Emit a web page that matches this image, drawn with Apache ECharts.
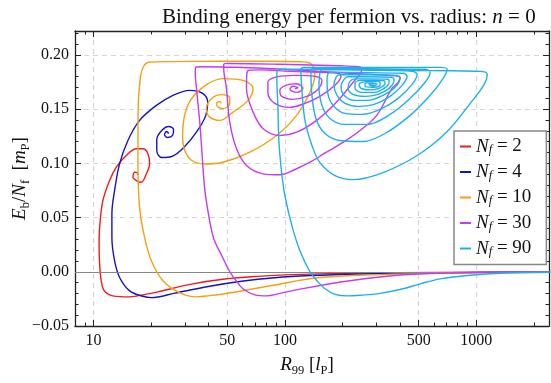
<!DOCTYPE html>
<html><head><meta charset="utf-8">
<script src="https://cdn.jsdelivr.net/npm/echarts@6/dist/echarts.min.js"></script>
<style>html,body{margin:0;padding:0;background:#fff}#c{width:551px;height:383px}</style>
</head><body><div id="c"></div>
<script>
const fermionCounts = [2, 4, 10, 30, 90];
const seriesColors = ['#ee1c1c', '#1414c4', '#f5a00f', '#c53af2', '#1eb0ee'];

const R_nf2 = [2440,1049,400,172,108.8,72.2,48.5,32.5,21.7,18.9,15.4,12.6,11.4,10.97,10.75,10.69,10.81,11.19,12.13,13.15,14.83,16.74,18.12,19.24,19.64,18.88,17.77,16.74,16.06,16.39,16.90,17.0];
const E_nf2 = [-0.0002,-0.0005,-0.0009,-0.0017,-0.0026,-0.0042,-0.0067,-0.0114,-0.0185,-0.0206,-0.0231,-0.0222,-0.0176,-0.0083,0.0083,0.0287,0.0453,0.0656,0.0841,0.0964,0.1072,0.1134,0.1134,0.1088,0.0995,0.0903,0.0825,0.0841,0.0872,0.0918,0.0915,0.0892];

const R_nf4 = [2438,1050,509,247,135.2,88.6,59.3,39.7,26.6,20.05,18.12,15.44,13.68,12.88,12.47,12.47,12.88,13.68,15.12,17.41,21.3,26.0,31.8,37.2,39.5,38.6,35.0,29.96,25.6,22.7,21.4,21.4,22.7,24.7,26.2,25.9,24.4,23.5,24.1,24.7];
const E_nf4 = [-0.0003,-0.0006,-0.0011,-0.0020,-0.0035,-0.0055,-0.0088,-0.0136,-0.0197,-0.0238,-0.0226,-0.0176,-0.0053,0.0102,0.0317,0.0533,0.0749,0.0995,0.1211,0.1396,0.1534,0.1627,0.1673,0.1645,0.1562,0.1442,0.1303,0.1155,0.1063,0.1054,0.1118,0.1220,0.1303,0.1340,0.1312,0.1257,0.1238,0.1266,0.1294,0.1275];

const R_nf10 = [2438,1050,509,247,143.6,89.7,58.1,48.5,40.5,34.6,28.2,23.06,20.05,18.49,17.41,17.06,17.1,17.63,18.28,19.41,25.0,45.7,83.5,119.8,133.6,141.1,143.6,135.2,115.1,90.5,65.6,47.5,38.1,32.6,29.96,29.2,31.05,37.35,47.5,60.5,68.2,64.2,53.6,45.7,40.5,38.9,41.3,46.6,51.5,51.5,47.5,44.8,43.9,45.7,46.5];
const E_nf10 = [-0.0004,-0.0008,-0.0017,-0.0032,-0.0058,-0.0120,-0.0180,-0.0203,-0.0220,-0.0231,-0.0194,-0.0083,0.0102,0.0314,0.0591,0.0998,0.1488,0.1811,0.1895,0.1932,0.1938,0.1941,0.1941,0.1936,0.1927,0.1890,0.1821,0.1657,0.1442,0.1257,0.1103,0.1010,0.0994,0.1026,0.1118,0.1257,0.1534,0.1703,0.1781,0.1765,0.1689,0.1580,0.1472,0.1396,0.1426,0.1504,0.1596,0.1633,0.1608,0.1550,0.1504,0.1518,0.1550,0.1571,0.1553];

const R_nf30 = [2440,1336,731,400,219,119.8,94.1,80.5,69.7,60.3,54.7,51.5,46.8,42.5,40.0,38.1,36.8,35.9,34.6,34.0,34.2,35.9,65.6,119.8,219,376.6,400,390.5,361.9,302,247,202,163.9,135.2,112.8,94.1,77.0,63.0,55.9,51.5,49.5,47.9,47.9,51.5,94.1,194.1,241.1,252.1,250,227.9,186.5,146.6,115.2,94.1,77.0,68.2,63.0,63.2,64.8,74.0,106.2,152.5,189.5,196.5,182.7,152.5,127.3,106.2,88.6,81.5,81.5,88.6,112.8,143.6,156.2,148.9,130.4,110.1,96.4,94.1,101.2,115.6,124.2,115.6,106.2,110.1,117.0,112.8];
const E_nf30 = [-0.0002,-0.0006,-0.0012,-0.0030,-0.0083,-0.0160,-0.0199,-0.0222,-0.0213,-0.0157,-0.0065,0,0.0148,0.0305,0.0518,0.0767,0.1118,0.1377,0.1673,0.1839,0.1885,0.1890,0.1881,0.1858,0.1830,0.1807,0.1793,0.1747,0.1689,0.1442,0.1303,0.1195,0.1100,0.1010,0.0943,0.0894,0.0903,0.0980,0.1134,0.1380,0.1689,0.1876,0.1913,0.1920,0.1913,0.1899,0.1890,0.1876,0.1839,0.1750,0.1565,0.1396,0.1287,0.1257,0.1319,0.1472,0.1689,0.1821,0.1858,0.1862,0.1848,0.1839,0.1830,0.1802,0.1719,0.1617,0.1553,0.1516,0.1553,0.1654,0.1747,0.1793,0.1811,0.1802,0.1765,0.1682,0.1617,0.1590,0.1617,0.1673,0.1719,0.1733,0.1691,0.1654,0.1682,0.1710,0.1696,0.1689];

const R_nf90 = [2440,1336,930,648,509,414.8,314.4,247,211.2,182.7,162,147.1,135.2,119.8,108.8,100,96.1,93.0,91.9,90.8,90.8,93.0,
  172.0,400,1049,1142,1101,930,705,491,326,227,182.7,152.5,138.5,127.3,122.7,121.3,124.2,
  278.6,648,705,671.7,574.3,451.3,333.9,256.1,194.1,162,145.3,138.5,136.8,140.2,
  278.6,540.8,574.3,540.8,451.3,354.6,268.7,206.1,172.0,156.2,150.7,152.5,156.2,
  278.6,462.3,491,462.3,390.5,314.4,253.0,206.1,180.5,168.0,166.0,172.0,
  278.6,414.8,435.2,409.8,354.6,292.4,241.1,206.1,187.3,180.5,184.9,194.1,
  278.6,385.8,400,376.6,326,272.0,229.8,203.7,196.5,203.7,213.7,
  278.6,363.2,372.1,350.4,306.9,262.4,227,213.7,219,232.5,
  278.6,346.2,350.4,329.9,292.4,253.0,232.5,232.5,247,
  285.4,329.9,333.9,310.6,278.6,250,244.1,259.3,285.4,314.4,314.4,288.9,262.4,262.4,285.4,303.2,285.4,275.4,288.9,292.4];
const E_nf90 = [-0.0005,-0.0014,-0.0032,-0.0065,-0.0111,-0.0157,-0.0199,-0.0217,-0.0222,-0.0208,-0.0157,-0.0083,0,0.0194,0.0425,0.0702,0.0918,0.1211,0.1534,0.1765,0.1848,0.1867,
  0.1867,0.1858,0.1848,0.1821,0.1728,0.1553,0.1294,0.1072,0.0915,0.0850,0.0887,0.1007,0.1165,0.1396,0.1673,0.1858,0.1885,
  0.1885,0.1885,0.1867,0.1784,0.1627,0.1442,0.1275,0.1201,0.1211,0.1275,0.1414,0.1627,0.1839,0.1876,
  0.1872,0.1867,0.1839,0.1747,0.1599,0.1451,0.1359,0.1359,0.1414,0.1534,0.1719,0.1839,0.1862,
  0.1858,0.1848,0.1821,0.1728,0.1599,0.1497,0.1451,0.1460,0.1525,0.1636,0.1765,0.1839,
  0.1835,0.1830,0.1802,0.1719,0.1617,0.1543,0.1525,0.1553,0.1627,0.1719,0.1793,0.1816,
  0.1816,0.1811,0.1784,0.1701,0.1627,0.1580,0.1580,0.1627,0.1710,0.1774,0.1798,
  0.1798,0.1793,0.1765,0.1691,0.1636,0.1617,0.1636,0.1691,0.1756,0.1779,
  0.1779,0.1775,0.1747,0.1691,0.1654,0.1654,0.1691,0.1738,0.1765,
  0.1765,0.1761,0.1738,0.1691,0.1677,0.1691,0.1728,0.1751,0.1756,0.1747,0.1719,0.1701,0.1710,0.1738,0.1742,0.1728,0.1715,0.1728,0.1733,0.1728];

const radiusSets = [R_nf2, R_nf4, R_nf10, R_nf30, R_nf90];
const energySets = [E_nf2, E_nf4, E_nf10, E_nf30, E_nf90];

const xMajorTicks = [10, 50, 100, 500, 1000];
const xMinorTicks = [8, 9, 20, 30, 40, 60, 70, 80, 90, 200, 300, 400, 600, 700, 800, 900, 2000];
const yTickStep = 0.05, yMinorStep = 0.01, yMin = -0.05, yMax = 0.222;
const xMin = 8, xMax = 2400;

const FONT = '"Liberation Serif", "DejaVu Serif", serif';
const AX = '#222';

const seriesNames = fermionCounts.map(n => 'Nf=' + n);
const series = fermionCounts.map((n, k) => ({
  name: seriesNames[k],
  type: 'line',
  xAxisIndex: 0, yAxisIndex: 0,
  data: radiusSets[k].map((r, i) => [r, energySets[k][i]]),
  showSymbol: false, symbol: 'none',
  smooth: 0.35,
  lineStyle: {color: seriesColors[k], width: 1.4},
  itemStyle: {color: seriesColors[k]},
  z: 3 + k,
  clip: true,
  animation: false
}));
series[0].markLine = {
  silent: true, symbol: 'none', animation: false,
  label: {show: false},
  lineStyle: {color: '#888', width: 1, type: 'solid'},
  data: [{yAxis: 0}]
};

const logBase = {type: 'log', logBase: 10, min: xMin, max: xMax};
const noLine = {show: false};
const nameRich = {
  i: {fontFamily: FONT, fontStyle: 'italic', fontSize: 19, lineHeight: 24},
  r: {fontFamily: FONT, fontSize: 19, lineHeight: 24},
  s: {fontFamily: FONT, fontSize: 12.5, lineHeight: 13, verticalAlign: 'bottom'}
};
const xAxis = [
  Object.assign({}, logBase, {
    position: 'bottom',
    axisLine: {show: true, onZero: false, lineStyle: {color: AX, width: 1.3}},
    axisTick: {show: true, inside: true, length: 6, customValues: xMajorTicks, lineStyle: {color: AX, width: 1}},
    axisLabel: {customValues: xMajorTicks, formatter: v => String(Math.round(v)), fontFamily: FONT, fontSize: 16, color: '#111', margin: 7},
    splitLine: {show: true, lineStyle: {type: [5, 4], color: '#d6d6d6', width: 1.2}},
    minorTick: {show: false}, minorSplitLine: {show: false},
    name: '{i|R}{s|99}{r| [}{i|l}{s|P}{r|]}',
    nameLocation: 'middle', nameGap: 27, nameMoveOverlap: false,
    nameTextStyle: {fontFamily: FONT, fontSize: 19, color: '#111', rich: nameRich, padding: [0, 10, 0, 0]}
  }),
  Object.assign({}, logBase, {
    position: 'bottom',
    axisLine: {show: false, onZero: false},
    axisTick: {show: true, inside: true, length: 3.5, customValues: xMinorTicks, lineStyle: {color: AX, width: 1}},
    axisLabel: {show: false}, splitLine: noLine
  }),
  Object.assign({}, logBase, {
    position: 'top',
    axisLine: {show: true, onZero: false, lineStyle: {color: AX, width: 1.3}},
    axisTick: {show: true, inside: true, length: 6, customValues: xMajorTicks, lineStyle: {color: AX, width: 1}},
    axisLabel: {show: false}, splitLine: noLine
  }),
  Object.assign({}, logBase, {
    position: 'top',
    axisLine: {show: false, onZero: false},
    axisTick: {show: true, inside: true, length: 3.5, customValues: xMinorTicks, lineStyle: {color: AX, width: 1}},
    axisLabel: {show: false}, splitLine: noLine
  })
];

const yBase = {type: 'value', min: yMin, max: yMax};
const yAxis = [
  Object.assign({}, yBase, {
    position: 'left', interval: yTickStep,
    axisLine: {show: true, onZero: false, lineStyle: {color: AX, width: 1.3}},
    axisTick: {show: true, inside: true, length: 6, lineStyle: {color: AX, width: 1}},
    axisLabel: {fontFamily: FONT, fontSize: 16, color: '#111', margin: 6, showMaxLabel: false,
      formatter: v => (v < 0 ? '\u2212' : '') + Math.abs(v).toFixed(2)},
    splitLine: {show: true, lineStyle: {type: [5, 4], color: '#d6d6d6', width: 1.2}},
    name: '{i|E}{s|b}{r|/}{i|N}{s|f}{r|  [}{i|m}{s|P}{r|]}',
    nameLocation: 'middle', nameGap: 43, nameRotate: 90, nameMoveOverlap: false,
    nameTextStyle: {fontFamily: FONT, fontSize: 19, color: '#111', rich: nameRich}
  }),
  Object.assign({}, yBase, {
    position: 'left', interval: yMinorStep,
    axisLine: {show: false, onZero: false},
    axisTick: {show: true, inside: true, length: 3.5, lineStyle: {color: AX, width: 1}},
    axisLabel: {show: false}, splitLine: noLine
  }),
  Object.assign({}, yBase, {
    position: 'right', interval: yTickStep,
    axisLine: {show: true, onZero: false, lineStyle: {color: AX, width: 1.3}},
    axisTick: {show: true, inside: true, length: 6, lineStyle: {color: AX, width: 1}},
    axisLabel: {show: false}, splitLine: noLine
  }),
  Object.assign({}, yBase, {
    position: 'right', interval: yMinorStep,
    axisLine: {show: false, onZero: false},
    axisTick: {show: true, inside: true, length: 3.5, lineStyle: {color: AX, width: 1}},
    axisLabel: {show: false}, splitLine: noLine
  })
];

const chart = echarts.init(document.getElementById('c'), null, {renderer: 'canvas'});
chart.setOption({
  animation: false,
  backgroundColor: '#fff',
  title: {
    text: 'Binding energy per fermion vs. radius: {i|n} = 0',
    left: 157, top: 2,
    textStyle: {fontFamily: FONT, fontSize: 21, fontWeight: 'normal', color: '#111',
      rich: {i: {fontFamily: FONT, fontStyle: 'italic', fontSize: 21}}}
  },
  grid: {left: 75, right: 2, top: 31, bottom: 57, containLabel: false, outerBoundsMode: 'none'},
  legend: {
    orient: 'vertical', left: 454, top: 131,
    data: seriesNames,
    icon: 'rect', itemWidth: 11, itemHeight: 2, itemGap: 6,
    padding: [6, 15, 6, 6],
    backgroundColor: '#fff', borderColor: '#888', borderWidth: 1.5, borderRadius: 0,
    formatter: name => '{i|N}{s|f}{t| = ' + name.split('=')[1] + '}',
    textStyle: {fontFamily: FONT, fontSize: 19, color: '#111',
      rich: {i: {fontFamily: FONT, fontStyle: 'italic', fontSize: 19, lineHeight: 20},
             s: {fontFamily: FONT, fontStyle: 'italic', fontSize: 12.5, lineHeight: 11, verticalAlign: 'bottom'},
             t: {fontFamily: FONT, fontSize: 19, lineHeight: 20}}}
  },
  xAxis: xAxis,
  yAxis: yAxis,
  series: series
});
</script></body></html>
